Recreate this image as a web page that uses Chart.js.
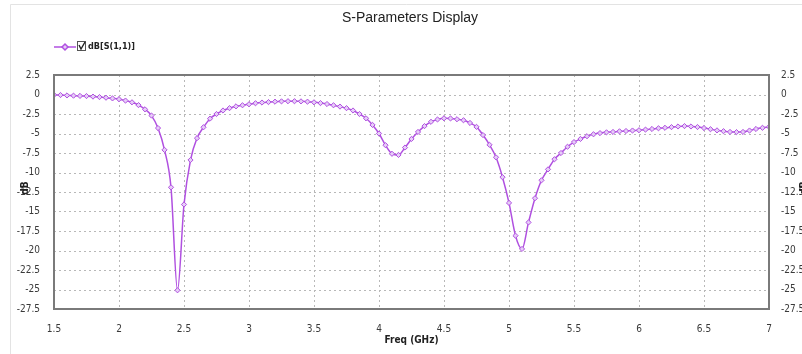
<!DOCTYPE html>
<html>
<head>
<meta charset="utf-8">
<script src="https://cdn.jsdelivr.net/npm/chart.js@4.4.1/dist/chart.umd.min.js"></script>
<style>
  html, body { margin: 0; padding: 0; background: #fff; }
  #wrap { width: 802px; height: 354px; position: relative; }
</style>
</head>
<body>
<div id="wrap"><canvas id="sparam__canvas" width="802" height="354"></canvas></div>
<script>
const chartTitle = "S-Parameters Display";
const seriesName = "dB[S(1,1)]";
const xTitle = "Freq (GHz)";
const yTitle = "dB";

const freqGHz = [
  1.5, 1.55, 1.6, 1.65, 1.7, 1.75, 1.8, 1.85, 1.9, 1.95,
  2.0, 2.05, 2.1, 2.15, 2.2, 2.25, 2.3, 2.35, 2.4, 2.45,
  2.5, 2.55, 2.6, 2.65, 2.7, 2.75, 2.8, 2.85, 2.9, 2.95,
  3.0, 3.05, 3.1, 3.15, 3.2, 3.25, 3.3, 3.35, 3.4, 3.45,
  3.5, 3.55, 3.6, 3.65, 3.7, 3.75, 3.8, 3.85, 3.9, 3.95,
  4.0, 4.05, 4.1, 4.15, 4.2, 4.25, 4.3, 4.35, 4.4, 4.45,
  4.5, 4.55, 4.6, 4.65, 4.7, 4.75, 4.8, 4.85, 4.9, 4.95,
  5.0, 5.05, 5.1, 5.15, 5.2, 5.25, 5.3, 5.35, 5.4, 5.45,
  5.5, 5.55, 5.6, 5.65, 5.7, 5.75, 5.8, 5.85, 5.9, 5.95,
  6.0, 6.05, 6.1, 6.15, 6.2, 6.25, 6.3, 6.35, 6.4, 6.45,
  6.5, 6.55, 6.6, 6.65, 6.7, 6.75, 6.8, 6.85, 6.9, 6.95,
  7.0
];

const s11dB = [
  -0.05, -0.07, -0.12, -0.15, -0.18, -0.2, -0.27, -0.33, -0.41, -0.5,
  -0.6, -0.78, -1.0, -1.36, -1.9, -2.7, -4.3, -7.1, -11.9, -25.1,
  -14.1, -8.4, -5.6, -4.2, -3.1, -2.5, -2.05, -1.75, -1.52, -1.38,
  -1.25, -1.12, -1.03, -0.97, -0.92, -0.88, -0.86, -0.86, -0.88, -0.92,
  -1.0, -1.1, -1.22, -1.38, -1.55, -1.75, -2.05, -2.5, -3.05, -3.9,
  -5.0, -6.5, -7.6, -7.75, -6.8, -5.7, -4.8, -4.05, -3.5, -3.2,
  -3.05, -3.07, -3.17, -3.3, -3.65, -4.15, -5.2, -6.45, -8.05, -10.6,
  -13.9, -18.1, -19.8, -16.4, -13.3, -11.0, -9.6, -8.3, -7.5, -6.7,
  -6.1, -5.7, -5.35, -5.1, -4.95, -4.85, -4.8, -4.72, -4.68, -4.62,
  -4.58, -4.5, -4.42, -4.33, -4.27, -4.18, -4.1, -4.05, -4.1, -4.17,
  -4.3, -4.45, -4.6, -4.7, -4.8, -4.82, -4.8, -4.62, -4.42, -4.27,
  -4.15
];

const X_MIN = 1.5, X_MAX = 7, X_STEP = 0.5;
const Y_MIN = -27.5, Y_MAX = 2.5, Y_STEP = 2.5;

const LINE_COLOR = "#b050e0";
const POINT_FILL = "#e6cdf7";
const TICK_FONT = "'Liberation Sans Narrow', 'DejaVu Sans Condensed', 'Liberation Sans', Arial, sans-serif";

// dotted grid, drawn from the scales' own tick positions
const dottedGridPlugin = {
  id: "dottedGrid",
  beforeDatasetsDraw(chart) {
    const ctx = chart.ctx;
    const area = chart.chartArea;
    const xs = chart.scales.x;
    const ys = chart.scales.y;
    ctx.save();
    ctx.strokeStyle = "#b8b8b8";
    ctx.lineWidth = 1;
    ctx.setLineDash([2, 3]);
    xs.ticks.forEach((t) => {
      const px = Math.round(xs.getPixelForValue(t.value)) + 0.5;
      ctx.beginPath();
      ctx.moveTo(px, area.top);
      ctx.lineTo(px, area.bottom);
      ctx.stroke();
    });
    ys.ticks.forEach((t) => {
      const py = Math.round(ys.getPixelForValue(t.value)) + 0.5;
      ctx.beginPath();
      ctx.moveTo(area.left, py);
      ctx.lineTo(area.right, py);
      ctx.stroke();
    });
    ctx.restore();
  },
};

// title, legend, axis titles and plot frame drawn by hand so they sit where the original has them
const decorPlugin = {
  id: "decor",
  afterDraw(chart) {
    const ctx = chart.ctx;
    const area = chart.chartArea;
    ctx.save();

    // light outer frame
    ctx.strokeStyle = "#e3e3e3";
    ctx.lineWidth = 1;
    ctx.beginPath();
    ctx.moveTo(10.5, 354);
    ctx.lineTo(10.5, 4.5);
    ctx.lineTo(802, 4.5);
    ctx.stroke();

    // plot frame
    ctx.strokeStyle = "#7a7a7a";
    ctx.lineWidth = 2;
    ctx.strokeRect(area.left, area.top, area.right - area.left, area.bottom - area.top);

    // chart title
    ctx.fillStyle = "#222";
    ctx.font = "14px 'Liberation Sans', Arial, sans-serif";
    ctx.textAlign = "center";
    ctx.textBaseline = "middle";
    ctx.fillText(chartTitle, 410, 18);

    // legend: line + marker, checkbox, name
    const ly = 47;
    ctx.strokeStyle = LINE_COLOR;
    ctx.lineWidth = 1.5;
    ctx.beginPath();
    ctx.moveTo(54, ly);
    ctx.lineTo(76, ly);
    ctx.stroke();
    ctx.fillStyle = POINT_FILL;
    ctx.beginPath();
    ctx.moveTo(65, ly - 3);
    ctx.lineTo(68, ly);
    ctx.lineTo(65, ly + 3);
    ctx.lineTo(62, ly);
    ctx.closePath();
    ctx.fill();
    ctx.stroke();

    ctx.strokeStyle = "#555";
    ctx.lineWidth = 1;
    ctx.strokeRect(77.5, 41.5, 8, 9);
    ctx.strokeStyle = "#222";
    ctx.lineWidth = 1.4;
    ctx.beginPath();
    ctx.moveTo(79, 45);
    ctx.lineTo(81, 49);
    ctx.lineTo(85, 42);
    ctx.stroke();

    ctx.fillStyle = "#222";
    ctx.font = "bold 9px " + TICK_FONT;
    ctx.textAlign = "left";
    ctx.fillText(seriesName, 88, ly);

    // axis titles
    ctx.font = "bold 10px " + TICK_FONT;
    ctx.textAlign = "center";
    ctx.fillText(xTitle, (area.left + area.right) / 2, 340);

    ctx.save();
    ctx.translate(25, (area.top + area.bottom) / 2 - 4);
    ctx.rotate(-Math.PI / 2);
    ctx.fillText(yTitle, 0, 0);
    ctx.restore();

    ctx.save();
    ctx.translate(804, (area.top + area.bottom) / 2 - 4);
    ctx.rotate(-Math.PI / 2);
    ctx.fillText(yTitle, 0, 0);
    ctx.restore();

    ctx.restore();
  },
};

function makeChart() {
  const ctx = document.getElementById("sparam__canvas").getContext("2d");
  const points = freqGHz.map((f, i) => ({ x: f, y: s11dB[i] }));

  const tickStyle = {
    color: "#3a3a3a",
    font: { family: TICK_FONT, size: 10 },
    callback: (v) => String(v),
  };

  return new Chart(ctx, {
    type: "scatter",
    data: {
      datasets: [
        {
          label: seriesName,
          data: points,
          showLine: true,
          borderColor: LINE_COLOR,
          borderWidth: 1.5,
          cubicInterpolationMode: "monotone",
          pointStyle: "rectRot",
          pointRadius: 2.6,
          pointBorderWidth: 1,
          pointBackgroundColor: POINT_FILL,
          pointBorderColor: LINE_COLOR,
          yAxisID: "y",
        },
      ],
    },
    options: {
      responsive: false,
      animation: false,
      layout: { padding: { top: 75, left: 0, right: 0, bottom: 0 } },
      plugins: {
        legend: { display: false },
        title: { display: false },
        tooltip: { enabled: false },
      },
      scales: {
        x: {
          type: "linear",
          min: X_MIN,
          max: X_MAX,
          grid: { display: false },
          border: { display: false },
          ticks: { ...tickStyle, stepSize: X_STEP, padding: 6 },
          afterFit: (scale) => { scale.height = 45; },
        },
        y: {
          position: "left",
          min: Y_MIN,
          max: Y_MAX,
          grid: { display: false },
          border: { display: false },
          ticks: { ...tickStyle, stepSize: Y_STEP, padding: 6 },
          afterFit: (scale) => { scale.width = 54; },
        },
        y2: {
          position: "right",
          min: Y_MIN,
          max: Y_MAX,
          grid: { display: false },
          border: { display: false },
          ticks: { ...tickStyle, stepSize: Y_STEP, padding: 4 },
          afterFit: (scale) => { scale.width = 33; },
        },
      },
    },
    plugins: [dottedGridPlugin, decorPlugin],
  });
}

makeChart();
</script>
</body>
</html>
